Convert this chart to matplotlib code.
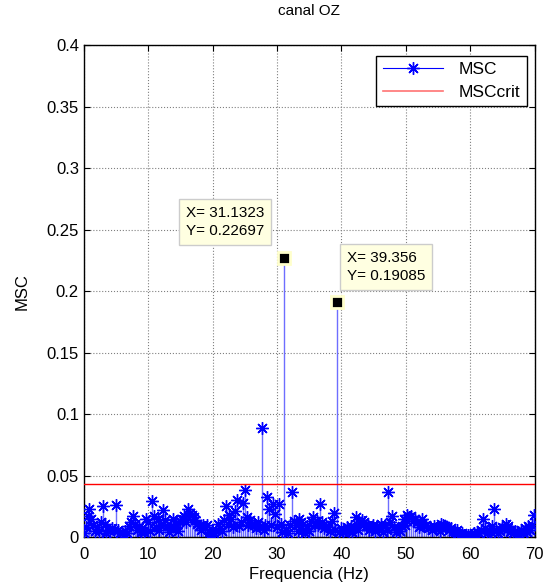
import matplotlib.pyplot as plt
import numpy as np
from matplotlib.lines import Line2D
from matplotlib.legend_handler import HandlerLine2D

plt.rcParams['font.family'] = ['Liberation Sans', 'DejaVu Sans']

# frequency resolution (Hz) and MSC values
df = 0.293701
msc = [
    # 0 - 10 Hz
    0.003, 0.008, 0.017, 0.023, 0.015, 0.010, 0.005, 0.008, 0.005, 0.012,
    0.025, 0.011, 0.003, 0.006, 0.005, 0.007, 0.006, 0.026, 0.006, 0.003,
    0.004, 0.002, 0.005, 0.003, 0.009, 0.012, 0.017, 0.011, 0.006, 0.008,
    0.004, 0.007, 0.004, 0.015,
    # 10 - 20 Hz
    0.012, 0.005, 0.029, 0.017, 0.008, 0.015, 0.006, 0.010, 0.022, 0.014,
    0.009, 0.004, 0.008, 0.015, 0.007, 0.011, 0.005, 0.013, 0.015, 0.017,
    0.012, 0.023, 0.020, 0.018, 0.016, 0.014, 0.011, 0.009, 0.006, 0.010,
    0.008, 0.010, 0.004, 0.003,
    # 20 - 30 Hz
    0.002, 0.003, 0.006, 0.011, 0.007, 0.005, 0.014, 0.025, 0.011, 0.018,
    0.015, 0.008, 0.021, 0.030, 0.009, 0.012, 0.028, 0.038, 0.016, 0.010,
    0.014, 0.011, 0.010, 0.007, 0.012, 0.008, 0.089, 0.006, 0.010, 0.033,
    0.023, 0.010, 0.027, 0.019,
    # 30 - 40 Hz
    0.008, 0.027, 0.011, 0.004, 0.22697, 0.006, 0.003, 0.010, 0.037, 0.013,
    0.010, 0.005, 0.015, 0.012, 0.006, 0.003, 0.009, 0.005, 0.013, 0.016,
    0.010, 0.013, 0.010, 0.027, 0.012, 0.007, 0.009, 0.008, 0.005, 0.013,
    0.020, 0.006, 0.19085, 0.004,
    # 40 - 50 Hz
    0.007, 0.004, 0.006, 0.008, 0.005, 0.009, 0.004, 0.008, 0.016, 0.006,
    0.011, 0.014, 0.012, 0.009, 0.010, 0.006, 0.008, 0.010, 0.005, 0.009,
    0.007, 0.011, 0.004, 0.010, 0.006, 0.037, 0.012, 0.017, 0.008, 0.004,
    0.007, 0.005, 0.009, 0.015,
    # 50 - 60 Hz
    0.010, 0.018, 0.016, 0.017, 0.013, 0.015, 0.012, 0.008, 0.011, 0.015,
    0.009, 0.010, 0.007, 0.008, 0.006, 0.009, 0.007, 0.008, 0.005, 0.011,
    0.010, 0.009, 0.008, 0.006, 0.007, 0.005, 0.004, 0.006, 0.003, 0.002,
    0.003, 0.002, 0.001, 0.002, 0.001,
    # 60 - 70 Hz
    0.002, 0.003, 0.002, 0.004, 0.003, 0.006, 0.015, 0.007, 0.003, 0.005,
    0.004, 0.009, 0.023, 0.006, 0.003, 0.005, 0.008, 0.007, 0.011, 0.009,
    0.004, 0.006, 0.003, 0.005, 0.004, 0.002, 0.006, 0.003, 0.007, 0.004,
    0.009, 0.006, 0.010, 0.018,
]
msc = np.array(msc)
freqs = np.arange(len(msc)) * df
msc_crit = 0.043

# data tips
tip_x = [31.1323, 39.356]
tip_y = [0.22697, 0.19085]
tip_text = ['X= 31.1323\nY= 0.22697', 'X= 39.356\nY= 0.19085']
tip_pos = [(15.9, 0.256), (40.8, 0.2195)]


class MarkerAtEnd(HandlerLine2D):
    # matlab style stem legend: marker at right end of the line
    def get_xdata(self, legend, xdescent, ydescent, width, height, fontsize):
        xdata = np.array([-xdescent, -xdescent + width])
        return xdata, np.array([-xdescent + width * 0.82])


fig = plt.figure(figsize=(5.44, 5.87), dpi=100)
ax = fig.add_axes([0.154, 0.085, 0.829, 0.838])

blue = '#0000FF'
ax.vlines(freqs, 0, msc, color='#6E6EFF', lw=1, zorder=2)
ax.plot(freqs, msc, ls='none', marker=(8, 2, 0), ms=9, mew=1,
        color=blue, zorder=3)
ax.axhline(msc_crit, color='red', lw=1, zorder=4)

# data tip markers and boxes
for x, y, t, p in zip(tip_x, tip_y, tip_text, tip_pos):
    ax.plot(x, y, 's', ms=9, mfc='black', mec='#FFFFCC', mew=2, zorder=6)
    ax.text(p[0], p[1], t, fontsize=11, va='center', ha='left', zorder=7,
            linespacing=1.35,
            bbox=dict(boxstyle='square,pad=0.45', fc='#FFFFE1', ec='#CCCCCC', lw=1))

ax.set_xlim(0, 70)
ax.set_ylim(0, 0.4)
ax.set_xticks(np.arange(0, 71, 10))
ax.set_yticks(np.arange(0, 0.41, 0.05))
ax.set_yticklabels(['0', '0.05', '0.1', '0.15', '0.2', '0.25', '0.3', '0.35', '0.4'])
ax.tick_params(direction='in', top=True, right=True, length=4, labelsize=12, width=0.8)
ax.tick_params(axis='x', pad=7)
ax.grid(True, ls=':', color='#808080', lw=0.8)
for s in ax.spines.values():
    s.set_linewidth(1)

ax.set_title('canal OZ', fontsize=11, pad=22)
ax.set_xlabel('Frequencia (Hz)', fontsize=12, labelpad=4)
ax.set_ylabel('MSC', fontsize=12, labelpad=12)

handles = [
    Line2D([], [], color=blue, lw=0.8, marker=(8, 2, 0), ms=9, mew=1),
    Line2D([], [], color='red', lw=1.2, alpha=0.55),
]
leg = ax.legend(handles, ['MSC', 'MSCcrit'], loc='upper right',
                bbox_to_anchor=(0.982, 0.978), borderaxespad=0, fontsize=12.5,
                fancybox=False, framealpha=1, edgecolor='black', handlelength=3.5,
                handler_map={handles[0]: MarkerAtEnd(numpoints=1)},
                borderpad=0.35, labelspacing=0.45, handletextpad=0.9)
leg.get_frame().set_linewidth(1)

fig.savefig('out.png', dpi=100)
